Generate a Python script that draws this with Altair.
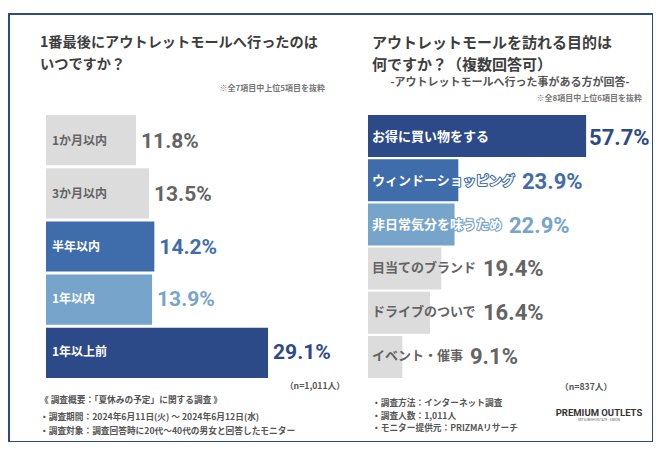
import altair as alt
import pandas as pd

# ---------------- data ----------------
left_cats = ["1か月以内", "3か月以内", "半年以内", "1年以内", "1年以上前"]
left_vals = [11.8, 13.5, 14.2, 13.9, 29.1]

right_cats = ["お得に買い物をする", "ウィンドーショッピング", "非日常気分を味うため",
              "目当てのブランド", "ドライブのついで", "イベント・催事"]
right_vals = [57.7, 23.9, 22.9, 19.4, 16.4, 9.1]

left_title = ["1番最後にアウトレットモールへ行ったのは", "いつですか？"]
right_title = ["アウトレットモールを訪れる目的は", "何ですか？（複数回答可）"]
left_note = "※全7項目中上位5項目を抜粋"
right_sub = "-アウトレットモールへ行った事がある方が回答-"
right_note = "※全8項目中上位6項目を抜粋"
left_n = "（n=1,011人）"
right_n = "（n=837人）"
left_foot = ["《 調査概要：「夏休みの予定」に関する調査 》",
             "・調査期間：2024年6月11日(火) ～ 2024年6月12日(水)",
             "・調査対象：調査回答時に20代〜40代の男女と回答したモニター"]
right_foot = ["・調査方法：インターネット調査",
              "・調査人数：1,011人",
              "・モニター提供元：PRIZMAリサーチ"]
logo = "PREMIUM OUTLETS"
logo_sub = "MITSUBISHI ESTATE · SIMON"

# ---------------- styles ----------------
NAVY, MID, LIGHT, GRAY = "#2c4a87", "#3f6dab", "#76a4cb", "#dcdcdc"
TXT_GRAY = "#646464"
left_bar_colors = [GRAY, GRAY, MID, LIGHT, NAVY]
left_val_colors = [TXT_GRAY, TXT_GRAY, MID, LIGHT, NAVY]
left_lbl_colors = [TXT_GRAY, TXT_GRAY, "white", "white", "white"]
left_lbl_stroke = ["transparent", "transparent", MID, LIGHT, NAVY]
right_bar_colors = [NAVY, MID, LIGHT, GRAY, GRAY, GRAY]
right_val_colors = [NAVY, MID, LIGHT, TXT_GRAY, TXT_GRAY, TXT_GRAY]
right_lbl_colors = ["white", "white", "white", TXT_GRAY, TXT_GRAY, TXT_GRAY]
right_lbl_stroke = [NAVY, MID, LIGHT, "transparent", "transparent", "transparent"]

JP = "Noto Sans CJK JP"
NUM = "Roboto"
W, H = 644, 428


def panel(cats, vals, bar_c, val_c, lbl_c, lbl_s, dom, xr, yr, pad,
          lsize, vsize, inset, gap, extra):
    df = pd.DataFrame({"cat": cats, "v": vals,
                       "lbl": [f"{v:.1f}%" for v in vals]})
    xs = alt.Scale(domain=dom, range=xr, nice=False, zero=True)
    ys = alt.Scale(domain=cats, range=yr, paddingInner=pad, paddingOuter=0)
    y = alt.Y("cat:N", sort=cats, scale=ys, axis=None)
    units_per_px = (dom[1] - dom[0]) / (xr[1] - xr[0])
    bars = alt.Chart(df).mark_bar(cornerRadius=0).encode(
        x=alt.X("v:Q", scale=xs, axis=None), y=y,
        color=alt.Color("cat:N", scale=alt.Scale(domain=cats, range=bar_c), legend=None))
    outline = alt.Chart(df).transform_calculate(z="0").mark_text(
        align="left", baseline="middle", dx=inset, font=JP, fontSize=lsize,
        fontWeight="bold", strokeWidth=2.2, strokeJoin="round").encode(
        x=alt.X("z:Q", scale=xs, axis=None), y=y, text="cat:N",
        color=alt.Color("cat:N", scale=alt.Scale(domain=cats, range=lbl_s), legend=None),
        stroke=alt.Stroke("cat:N", scale=alt.Scale(domain=cats, range=lbl_s), legend=None))
    labels = alt.Chart(df).transform_calculate(z="0").mark_text(
        align="left", baseline="middle", dx=inset, font=JP, fontSize=lsize,
        fontWeight="bold").encode(
        x=alt.X("z:Q", scale=xs, axis=None), y=y, text="cat:N",
        color=alt.Color("cat:N", scale=alt.Scale(domain=cats, range=lbl_c), legend=None))
    values = alt.Chart(df).transform_calculate(
        pos=f"max(datum.v, (length(datum.cat)*{lsize}+{inset}+{extra})*{units_per_px})").mark_text(
        align="left", baseline="middle", dx=gap, dy=1, font=NUM, fontSize=vsize,
        fontWeight="bold").encode(
        x=alt.X("pos:Q", scale=xs, axis=None), y=y, text="lbl:N",
        color=alt.Color("cat:N", scale=alt.Scale(domain=cats, range=val_c), legend=None))
    return [bars, outline, labels, values]


def txt(s, x, y, size, color="#444444", weight="bold", align="left", font=JP):
    return alt.Chart(pd.DataFrame({"t": [s]})).mark_text(
        align=align, baseline="middle", font=font, fontSize=size,
        fontWeight=weight, color=color).encode(
        x=alt.value(x), y=alt.value(y), text="t:N")


layers = []
layers += panel(left_cats, left_vals, left_bar_colors, left_val_colors,
                left_lbl_colors, left_lbl_stroke, [0, 30], [37, 265.9], [101, 364],
                0.057, 12, 21, 6, 5, 0)
layers += panel(right_cats, right_vals, right_bar_colors, right_val_colors,
                right_lbl_colors, right_lbl_stroke, [0, 60], [359, 585.8], [101, 364],
                0.05, 13, 22, 4, 3, 4)

layers += [
    txt(left_title[0], 31, 29, 14.2, "#3d3d3d"),
    txt(left_title[1], 31, 50.5, 14.2, "#3d3d3d"),
    txt(right_title[0], 363, 29, 15, "#3d3d3d"),
    txt(right_title[1], 363, 51, 15, "#3d3d3d"),
    txt(left_note, 316, 74.5, 8, "#777777", align="right"),
    txt(right_sub, 501, 68.5, 11, "#555555", align="center"),
    txt(right_note, 633, 84.5, 8, "#777777", align="right"),
    txt(left_n, 336, 372, 8.7, "#555555", align="right"),
    txt(right_n, 551, 373, 8.7, "#555555"),
    txt(left_foot[0], 31, 386, 8.7, "#555555"),
    txt(left_foot[1], 31, 403, 8.7, "#555555"),
    txt(left_foot[2], 31, 417, 8.7, "#555555"),
    txt(right_foot[0], 363, 389, 8.7, "#555555"),
    txt(right_foot[1], 363, 402, 8.7, "#555555"),
    txt(right_foot[2], 363, 414, 8.7, "#555555"),
    txt(logo, 590, 399, 9.5, "#333333", align="center", font="Roboto"),
    txt(logo_sub, 590, 406, 3.2, "#666666", weight="normal", align="center", font="Roboto"),
]

chart = alt.layer(*layers).resolve_scale(
    x="independent", y="independent", color="independent", stroke="independent"
).properties(
    width=W, height=H,
    padding={"left": 1, "top": 6, "right": 0, "bottom": 0},
    autosize=alt.AutoSizeParams(type="none"),
    background="white",
).configure_view(stroke=NAVY, strokeWidth=2)

chart.save("out.html", embed_options={"renderer": "svg", "actions": False})
